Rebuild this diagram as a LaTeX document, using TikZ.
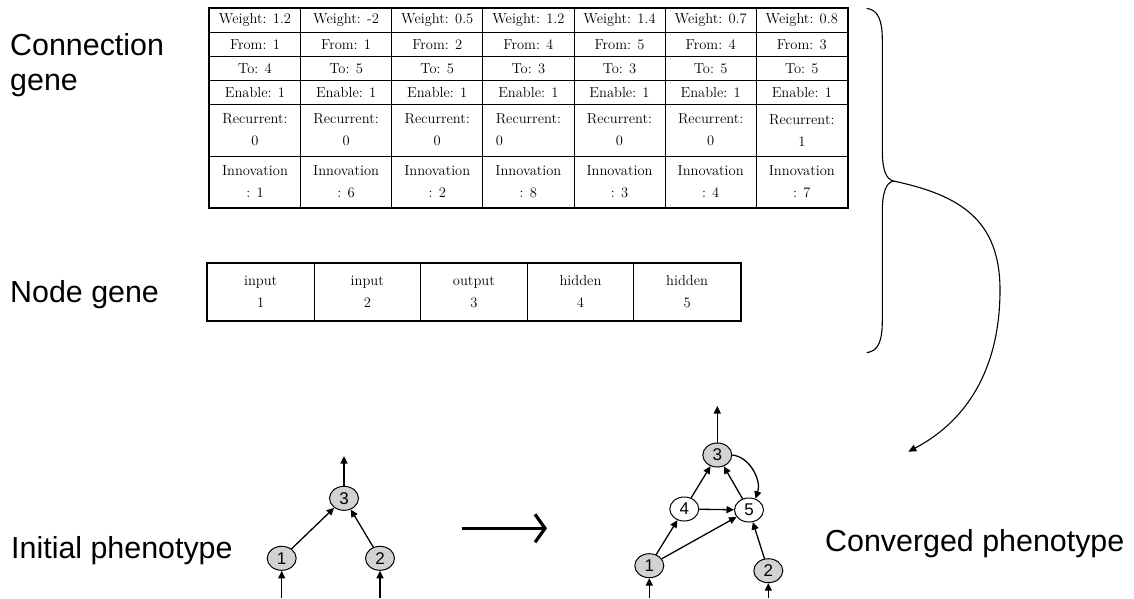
\documentclass[tikz,border=0pt]{standalone}
\usepackage{fontspec}
\newfontfamily\labelfont{Liberation Sans}
\usetikzlibrary{arrows.meta,shapes.geometric}
\begin{document}
\begin{tikzpicture}[x=1pt,y=-1pt,
  cell/.style={draw, line width=0.8pt, anchor=north west, inner sep=0pt,
    minimum width=91.14pt, font=\fontsize{14.5}{22}\selectfont, align=center},
  ncell/.style={cell, minimum width=106.6pt, minimum height=57pt},
  biglabel/.style={anchor=base west, inner sep=0pt,
    font=\labelfont\fontsize{30.4}{36}\selectfont},
  innode/.style={ellipse, draw, line width=1pt, fill=gray!35,
    minimum width=29pt, minimum height=24pt, inner sep=0pt,
    font=\labelfont\fontsize{17}{17}\selectfont},
  hidnode/.style={innode, fill=white},
  link/.style={line width=1.3pt, -{Triangle[length=7.5pt,width=7pt]}}
]
\useasboundingbox (0,0) rectangle (1134,598);

% ---------- side labels ----------
\node[biglabel] (lconn) at (10,55) {Connection};
\node[biglabel] (lgene) at (10,90.7) {gene};
\node[biglabel] (lnode) at (10,302.7) {Node gene};
\node[biglabel] (linit) at (11,558) {Initial phenotype};
\node[biglabel] (lconv) at (825,551) {Converged phenotype};

% ---------- connection gene table ----------
\foreach \w/\f/\t/\r/\n/\al [count=\i from 0] in
  {1.2/1/4/0/1/center, -2/1/5/0/6/center, 0.5/2/5/0/2/center,
   1.2/4/3/0/8/left, 1.4/5/3/0/3/center, 0.7/4/5/0/4/center,
   0.8/3/5/1/7/center}{
  \pgfmathsetmacro{\cx}{209+91.14*\i}
  \node[cell, minimum height=24pt] (cw\i) at (\cx,8) {Weight: \w};
  \node[cell, minimum height=24pt] (cf\i) at (\cx,32) {From: \f};
  \node[cell, minimum height=24pt] (ct\i) at (\cx,56) {To: \t};
  \node[cell, minimum height=24pt] (ce\i) at (\cx,80) {Enable: 1};
  \node[cell, minimum height=51.5pt, align=\al] (cr\i) at (\cx,104) {Recurrent:\\\r};
  \node[cell, minimum height=51.5pt] (cn\i) at (\cx,155.5) {Innovation\\: \n};
}
\draw[line width=1.6pt] (cw0.north west) rectangle (cn6.south east);

% ---------- node gene table ----------
\foreach \k/\num [count=\i from 0] in {input/1, input/2, output/3, hidden/4, hidden/5}{
  \pgfmathsetmacro{\cx}{207+106.6*\i}
  \node[ncell] (ng\i) at (\cx,263) {\k\\\num};
}
\draw[line width=1.6pt] (ng0.north west) rectangle (ng4.south east);

% ---------- brace and arrow to the converged network ----------
\coordinate (btop) at (866.7,8.3);
\coordinate (btip) at (893.3,181);
\coordinate (bbot) at (866.7,352.7);
\coordinate (bend) at (908.3,451.7);
\draw[line width=1.1pt] (btop) .. controls (879,10) and (882.3,22) .. (882.3,40)
  -- (882.3,150) .. controls (882.3,170) and (886,179) .. (btip)
  .. controls (886,183) and (882.3,192) .. (882.3,212)
  -- (882.3,320) .. controls (882.3,340) and (879,351) .. (bbot);
\draw[line width=1.1pt, -{Triangle[length=8pt,width=7pt]}] (btip)
  .. controls (960,195) and (1000,220) .. (1000,290)
  .. controls (1000,362) and (972,418) .. (bend);

% ---------- initial phenotype ----------
\node[innode] (a3) at (344,498.3) {3};
\node[innode] (a1) at (281.7,558.3) {1};
\node[innode] (a2) at (380,558.3) {2};
\coordinate (ain1) at (281.7,598);
\coordinate (ain2) at (380,598);
\coordinate (aout) at (344,456);
\draw[link] (ain1) -- (a1);
\draw[link] (ain2) -- (a2);
\draw[link] (a1) -- (a3);
\draw[link] (a2) -- (a3);
\draw[link] (a3) -- (aout);

% ---------- evolution arrow ----------
\coordinate (ga) at (461.7,528.3);
\coordinate (gb) at (547,528.3);
\draw[line width=3.2pt, -{Straight Barb[length=10pt,width=28pt]}] (ga) -- (gb);

% ---------- converged phenotype ----------
\node[innode] (b3) at (717.3,455) {3};
\node[hidnode] (b4) at (684.3,509) {4};
\node[hidnode] (b5) at (749,510) {5};
\node[innode] (b1) at (649.3,565.7) {1};
\node[innode] (b2) at (768.3,570.7) {2};
\coordinate (bin1) at (649.3,598);
\coordinate (bin2) at (768.3,598);
\coordinate (bout) at (717.3,406);
\draw[link] (bin1) -- (b1);
\draw[link] (bin2) -- (b2);
\draw[link] (b1) -- (b4);
\draw[link] (b1) -- (b5);
\draw[link] (b4) -- (b5);
\draw[link] (b4) -- (b3);
\draw[link] (b5) -- (b3);
\draw[link] (b2) -- (b5);
\draw[link] (b3.east) .. controls +(18,2) and +(6,-18) .. (b5.60);
\draw[link] (b3) -- (bout);
\end{tikzpicture}
\end{document}
